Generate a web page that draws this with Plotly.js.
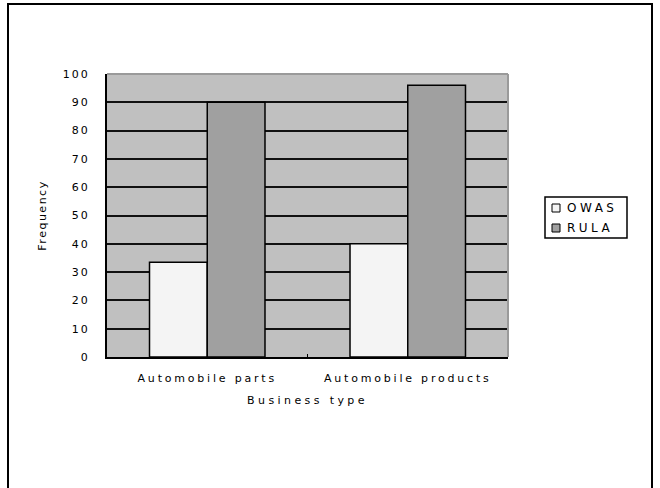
<!DOCTYPE html>
<html>
<head>
<meta charset="utf-8">
<script src="https://cdn.plot.ly/plotly-3.0.1.min.js"></script>
<style>
  html, body { margin: 0; padding: 0; background: #ffffff; }
  #chart { width: 660px; height: 488px; }
  /* wide, spaced lettering for the axis and legend text */
  .xtick text { letter-spacing: 2.8px; }
  .ytick text { letter-spacing: 2px; }
  .xtitle { letter-spacing: 3.4px; }
  .ytitle { letter-spacing: 1.5px; }
  .annotation-text { letter-spacing: 3.5px; }
</style>
</head>
<body>
<div id="chart"></div>
<script>
// Business types on the x axis
const categories = ['Automobile parts', 'Automobile products'];
// Assessment methods and their bar colours
const seriesNames = ['OWAS', 'RULA'];
const seriesColors = ['#f4f4f4', '#a0a0a0'];
// Frequency per assessment method
const owasValues = [33.5, 40];
const rulaValues = [90, 96];
// Y axis ticks
const yTicks = [0, 10, 20, 30, 40, 50, 60, 70, 80, 90, 100];

const W = 660, H = 488;
const M = { l: 107, r: 152, t: 74, b: 131 };
const plotW = W - M.l - M.r, plotH = H - M.t - M.b;
// pixel position -> paper fraction
const px = v => (v - M.l) / plotW;
const py = v => (H - M.b - v) / plotH;

const baseFont = { family: 'DejaVu Sans, Arial, sans-serif', size: 11, color: '#000000' };
const keyFont = { family: 'DejaVu Sans, Arial, sans-serif', size: 12, color: '#000000' };
const outline = { color: '#000000', width: 1.5 };

const seriesValues = [owasValues, rulaValues];
const traces = seriesNames.map((name, i) => ({
  type: 'bar', name: name, x: categories, y: seriesValues[i],
  marker: { color: seriesColors[i], line: outline },
  hoverinfo: 'none', showlegend: false
}));

// Boxed key at the right of the plot
const keyShapes = [
  { type: 'rect', xref: 'paper', yref: 'paper',
    x0: px(545), x1: px(627), y0: py(238), y1: py(197),
    line: { color: '#000000', width: 1.5 }, fillcolor: '#ffffff', layer: 'above' }
];
const keyNotes = [];
seriesNames.forEach((name, i) => {
  const cy = 208 + i * 20;
  keyShapes.push({ type: 'rect', xref: 'paper', yref: 'paper',
    x0: px(552), x1: px(560), y0: py(cy + 4), y1: py(cy - 4),
    line: { color: '#000000', width: 1 }, fillcolor: seriesColors[i], layer: 'above' });
  keyNotes.push({ xref: 'paper', yref: 'paper', x: px(566), y: py(cy),
    xanchor: 'left', yanchor: 'middle', text: name, showarrow: false,
    font: keyFont, borderpad: 0 });
});

const layout = {
  width: W, height: H,
  margin: { l: M.l, r: M.r, t: M.t, b: M.b, pad: 0 },
  paper_bgcolor: '#ffffff',
  plot_bgcolor: '#c0c0c0',
  font: baseFont,
  barmode: 'group',
  bargap: 0.424,
  bargroupgap: 0,
  showlegend: false,
  xaxis: {
    type: 'category',
    showline: true, linecolor: '#000000', linewidth: 2,
    showgrid: false, zeroline: false,
    ticks: 'inside', ticklen: 3, tickcolor: '#000000', tickson: 'boundaries',
    ticklabelstandoff: 10,
    tickfont: baseFont,
    title: { text: 'Business type', font: baseFont, standoff: 12 }
  },
  yaxis: {
    range: [0, 100], tickvals: yTicks,
    showline: true, linecolor: '#000000', linewidth: 2,
    showgrid: true, gridcolor: '#111111', gridwidth: 2,
    zeroline: false, ticks: '',
    ticklabelstandoff: 13,
    tickfont: baseFont,
    title: { text: 'Frequency', font: baseFont, standoff: 14 }
  },
  annotations: keyNotes,
  shapes: [
    // light frame along the top and right of the plot area
    { type: 'line', xref: 'paper', yref: 'paper', x0: 0, x1: 1, y0: 1, y1: 1,
      line: { color: '#9a9a9a', width: 2 }, layer: 'above' },
    { type: 'line', xref: 'paper', yref: 'paper', x0: 1, x1: 1, y0: 0, y1: 1,
      line: { color: '#9a9a9a', width: 2 }, layer: 'above' },
    // outer border around the whole figure
    { type: 'rect', xref: 'paper', yref: 'paper',
      x0: px(8), x1: px(652), y0: py(492), y1: py(4),
      line: { color: '#000000', width: 2 }, fillcolor: 'rgba(0,0,0,0)', layer: 'below' }
  ].concat(keyShapes)
};

Plotly.newPlot('chart', traces, layout, { displayModeBar: false });
</script>
</body>
</html>
